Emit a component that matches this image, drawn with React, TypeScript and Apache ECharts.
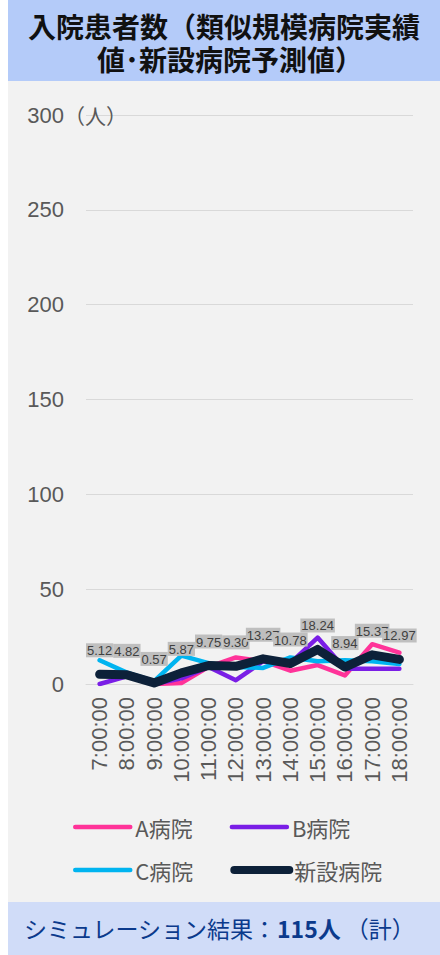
import React, { useEffect, useRef } from "react";
import * as echarts from "echarts";

const categories = ["7:00:00", "8:00:00", "9:00:00", "10:00:00", "11:00:00", "12:00:00", "13:00:00", "14:00:00", "15:00:00", "16:00:00", "17:00:00", "18:00:00"];
const hospitalA = [5, 4, 0, 0.5, 9, 14, 12, 7, 10, 4.5, 21, 16.5];
const hospitalB = [0, 4, 0, 3, 9, 2, 12, 11, 24.5, 8, 8, 8];
const hospitalC = [12.5, 6, 1.5, 15, 11, 9, 8.5, 14, 12, 12.5, 12, 10.5];
const newHospital = [5.12, 4.82, 0.57, 5.87, 9.75, 9.3, 13.27, 10.78, 18.24, 8.94, 15.37, 12.97];
const seriesNames = ["A病院", "B病院", "C病院", "新設病院"];
const yTicks = { min: 0, max: 300, interval: 50 };

const FONT = '"Liberation Sans", "Noto Sans CJK JP", sans-serif';
const CJK = '"Noto Sans CJK JP", "Liberation Sans", sans-serif';

export default function App() {
  const ref = useRef<HTMLDivElement>(null);
  useEffect(() => {
    if (!ref.current) return;
    const chart = echarts.init(ref.current, undefined, { renderer: "svg" });
    const colors = ["#ff3399", "#7a1ee6", "#00b4f0", "#0d2139"];
    const widths = [4.5, 4.5, 4.5, 9];
    const datas = [hospitalA, hospitalB, hospitalC, newHospital];
    const series: any[] = datas.map((d, i) => ({
      name: seriesNames[i],
      type: "line",
      data: d,
      symbol: i === 3 ? "circle" : "none",
      symbolSize: 2,
      showSymbol: i === 3,
      itemStyle: { color: colors[i] },
      lineStyle: { color: colors[i], width: widths[i], cap: "round", join: "round" },
      z: 2 + i,
      label:
        i === 3
          ? {
              show: true,
              position: "top",
              distance: 16,
              formatter: (p: any) => Number(p.value).toFixed(2),
              backgroundColor: "#bfbfbf",
              color: "#404040",
              fontSize: 13,
              fontFamily: FONT,
              padding: [1, 1, 0, 1],
            }
          : { show: false },
    }));
    const legendItem = (i: number) => ({
      name: seriesNames[i],
      itemStyle: { opacity: 0 },
      lineStyle: { width: i === 3 ? 8 : 4.5, cap: "round", color: colors[i] },
    });
    const legendBase = {
      left: 60,
      itemWidth: 55,
      itemHeight: 10,
      itemGap: 37,
      textStyle: { fontSize: 22, color: "#595959", fontFamily: CJK },
    };
    chart.setOption({
      animation: false,
      backgroundColor: "#f2f2f2",
      grid: { left: 78, right: 27, top: 115, bottom: 271, containLabel: false },
      xAxis: {
        type: "category",
        data: categories,
        boundaryGap: true,
        axisLine: { show: true, lineStyle: { color: "#d9d9d9", width: 1 } },
        axisTick: { show: false },
        axisLabel: { interval: 0, rotate: 90, fontSize: 22, color: "#595959", fontFamily: FONT, margin: 13 },
      },
      yAxis: {
        type: "value",
        min: yTicks.min,
        max: yTicks.max,
        interval: yTicks.interval,
        axisLine: { show: false },
        axisTick: { show: false },
        splitLine: { lineStyle: { color: "#d9d9d9", width: 1 } },
        axisLabel: { fontSize: 22, color: "#595959", fontFamily: FONT, margin: 22 },
      },
      legend: [
        { ...legendBase, top: 811, data: [legendItem(0), legendItem(1)] },
        { ...legendBase, top: 854, data: [legendItem(2), legendItem(3)] },
      ],
      series,
      graphic: [
        { type: "rect", shape: { x: 0, y: 0, width: 432, height: 81 }, style: { fill: "#b4cbf9" }, z: 0 },
        { type: "rect", shape: { x: 0, y: 902, width: 432, height: 53 }, style: { fill: "#d0dcf8" }, z: 0 },
        {
          type: "text",
          z: 10,
          style: {
            text: "入院患者数（類似規模病院実績",
            x: 216,
            y: 26,
            align: "center",
            verticalAlign: "middle",
            fontSize: 28,
            lineHeight: 30,
            fontWeight: "bold",
            fontFamily: CJK,
            fill: "#111111",
          },
        },
        {
          type: "text",
          z: 10,
          style: {
            text: "値･新設病院予測値）",
            x: 222,
            y: 59,
            align: "center",
            verticalAlign: "middle",
            fontSize: 28,
            lineHeight: 30,
            fontWeight: "bold",
            fontFamily: CJK,
            fill: "#111111",
          },
        },
        {
          type: "text",
          z: 10,
          style: {
            text: "（人）",
            x: 56,
            y: 115,
            verticalAlign: "middle",
            fontSize: 21,
            fontFamily: CJK,
            fill: "#595959",
          },
        },
        {
          type: "text",
          z: 10,
          style: {
            text: "{a|シミュレーション結果：}{b|115人}{a| （計）}",
            x: 16,
            y: 928,
            verticalAlign: "middle",
            rich: {
              a: { fontSize: 23, fontFamily: CJK, fill: "#0b3a8c", color: "#0b3a8c" },
              b: { fontSize: 23, fontWeight: "bold", fontFamily: CJK, fill: "#0b3a8c", color: "#0b3a8c" },
            },
          },
        },
      ],
    });
    return () => chart.dispose();
  }, []);
  return (
    <div
      ref={ref}
      style={{ position: "absolute", left: 8, top: 0, width: 432, height: 955 }}
    />
  );
}
